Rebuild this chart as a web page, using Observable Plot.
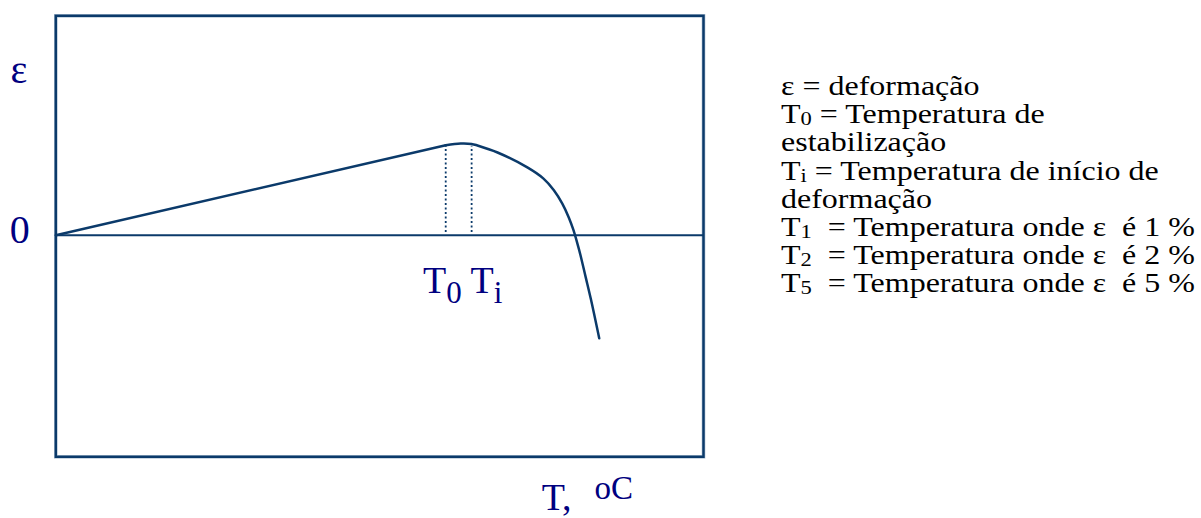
<!DOCTYPE html>
<html>
<head>
<meta charset="utf-8">
<script src="https://cdn.jsdelivr.net/npm/d3@7"></script>
<script src="https://cdn.jsdelivr.net/npm/@observablehq/plot@0.6"></script>
<style>
  html, body { margin: 0; padding: 0; background: #fff; }
  #wrap { position: relative; width: 1201px; height: 518px; overflow: hidden; }
  #legend {
    position: absolute; left: 781px; top: 72px;
    font-family: "Liberation Serif", "Times New Roman", Times, serif;
    font-size: 27px; line-height: 28.2px; color: #000;
    white-space: pre; transform: scaleX(1.185); transform-origin: 0 0;
  }
  #legend .sub { font-size: 19px; position: relative; top: 2px; line-height: 0; }
</style>
</head>
<body>
<div id="wrap"><div id="chart"></div><div id="legend"></div></div>
<script>
// ---- data ----
const temperature = [0, 60.2, 62.5, 64.2, 65.1, 68.2, 72.8, 75.3, 76.9, 78.2, 79.2, 79.9, 80.5, 81.0, 81.8, 82.6, 83.9];
const strain      = [0, 0.41, 0.418, 0.416, 0.409, 0.377, 0.309, 0.258, 0.205, 0.144, 0.081, 0.025, -0.035, -0.09, -0.19, -0.29, -0.47];
const markNames   = ["0", "i"];          // subscripts of T0, Ti
const markTemp    = [60.2, 64.2];
const markStrain  = [0.405, 0.405];
const yTicks      = [0];
const yTickLabels = ["0"];
const yLabel      = "ε";
const xLabel      = "T,";
const xUnit       = "oC";
const legendSym   = ["ε", "T", "", "T", "", "T", "T", "T"];
const legendSub   = ["", "0", "", "i", "", "1", "2", "5"];
const legendText  = [" = deformação", " = Temperatura de", "estabilização", " = Temperatura de início de",
                     "deformação", "  = Temperatura onde ε  é 1 %", "  = Temperatura onde ε  é 2 %", "  = Temperatura onde ε  é 5 %"];

const curve = temperature.map((t, i) => ({t, e: strain[i]}));
const marks = markTemp.map((t, i) => ({t, e: markStrain[i], name: markNames[i]}));

const lineColor = "#0b3a6a";
const textColor = "#000080";

const plot = Plot.plot({
  width: 1201,
  height: 518,
  marginLeft: 55.3,
  marginRight: 498,
  marginTop: 15.3,
  marginBottom: 61.7,
  style: {fontFamily: "'Liberation Serif', 'Times New Roman', serif", background: "transparent"},
  x: {domain: [0, 100], axis: null},
  y: {domain: [-1.01, 1], axis: null},
  marks: [
    Plot.frame({stroke: "#a9bccf", strokeWidth: 3.6}),
    Plot.frame({stroke: lineColor, strokeWidth: 2.4}),
    Plot.ruleY([0], {stroke: lineColor, strokeWidth: 2}),
    Plot.ruleX(marks, {x: "t", y1: 0.012, y2: "e", stroke: lineColor, strokeWidth: 1.8, strokeDasharray: "2,2.5"}),
    // straight rise, then the curved drop
    Plot.line(curve.slice(0, 2), {x: "t", y: "e", stroke: lineColor, strokeWidth: 2.5}),
    Plot.line(curve.slice(1), {x: "t", y: "e", stroke: lineColor, strokeWidth: 2.5, curve: "catmull-rom"}),
    Plot.axisY(yTicks, {tickSize: 0, tickPadding: 26, fontSize: 40, fill: textColor, tickFormat: (d, i) => yTickLabels[i], label: null, dy: -5}),
    Plot.text([yLabel], {frameAnchor: "top-left", textAnchor: "middle", lineAnchor: "bottom", dx: -37, dy: 67, fontSize: 40, fill: textColor}),
    Plot.text(["TT"], {x: d3.mean(markTemp), y: 0, textAnchor: "middle", lineAnchor: "bottom", dx: 4, dy: 58, fontSize: 38, fill: textColor}),
    Plot.text([xLabel], {frameAnchor: "bottom", textAnchor: "start", lineAnchor: "bottom", dx: 162, dy: 53.5, fontSize: 38, fill: textColor})
  ]
});
document.getElementById("chart").appendChild(plot);

// subscripts / superscripts as tspans
const svg = d3.select(plot);
svg.selectAll("text").filter(function() { return this.textContent === "TT"; }).each(function() {
  const t = d3.select(this); t.text("");
  marks.forEach((m, i) => {
    t.append("tspan").attr("font-size", 38).attr("dy", i === 0 ? 0 : -10).text(i === 0 ? "T" : " T");
    t.append("tspan").attr("font-size", 31).attr("dy", 10).text(m.name);
  });
});
svg.selectAll("text").filter(function() { return this.textContent === xLabel; }).each(function() {
  d3.select(this).append("tspan").attr("font-size", 33).attr("dx", 23).attr("dy", -11).text(xUnit);
});

// legend
const legend = d3.select("#legend");
legendSym.forEach((s, i) => {
  const row = legend.append("div");
  row.append("span").text(s);
  if (legendSub[i]) row.append("span").attr("class", "sub").text(legendSub[i]);
  row.append("span").text(legendText[i]);
});
</script>
</body>
</html>
